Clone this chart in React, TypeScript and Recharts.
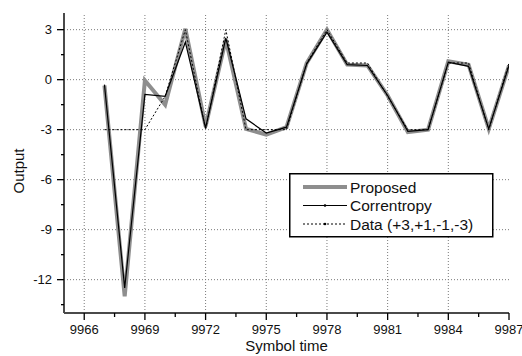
import React from 'react';
import { LineChart, Line, XAxis, YAxis, ReferenceLine, Legend } from 'recharts';

const symbolTimes = [9967, 9968, 9969, 9970, 9971, 9972, 9973, 9974, 9975, 9976, 9977, 9978, 9979, 9980, 9981, 9982, 9983, 9984, 9985, 9986, 9987];
const proposed = [-0.35, -13.0, -0.05, -1.5, 3.05, -2.8, 2.4, -2.95, -3.3, -2.85, 1.0, 3.0, 0.9, 0.85, -0.95, -3.15, -3.0, 1.1, 0.9, -2.95, 0.85];
const correntropy = [-0.3, -12.5, -0.88, -1.0, 2.25, -2.9, 2.5, -2.35, -3.2, -2.85, 0.95, 2.85, 0.9, 0.85, -0.95, -3.1, -3.0, 1.05, 0.8, -2.95, 0.85];
const dataSymbols = [-3, -3, -3, -1, 3, -3, 3, -3, -3, -3, 1, 3, 1, 1, -1, -3, -3, 1, 1, -3, 1];

const xMajorTicks = [9966, 9969, 9972, 9975, 9978, 9981, 9984, 9987];
const xMinorTicks = [9967.5, 9970.5, 9973.5, 9976.5, 9979.5, 9982.5, 9985.5];
const yMajorTicks = [-12, -9, -6, -3, 0, 3];
const yMinorTicks = [-13.5, -10.5, -7.5, -4.5, -1.5, 1.5];

const xDomain = [9965, 9987];
const yDomain = [-14, 4];

const chartData = symbolTimes.map((t, i) => ({
  t,
  proposed: proposed[i],
  correntropy: correntropy[i],
  data: dataSymbols[i],
}));

const FONT = 'Liberation Sans, Arial, Helvetica, sans-serif';
const AXIS_COLOR = '#4a4a4a';
const GRID_COLOR = '#7a7a7a';

const allX = [...xMajorTicks, ...xMinorTicks].sort((a, b) => a - b);
const allY = [...yMajorTicks, ...yMinorTicks].sort((a, b) => a - b);

const BottomTick = (props: any) => {
  const { x, y, payload } = props;
  const major = xMajorTicks.includes(payload.value);
  return (
    <g>
      <line x1={x} x2={x} y1={y} y2={y + (major ? 7 : 4)} stroke="#000" strokeWidth={1.3} />
      {major && (
        <text x={x} y={y + 21} textAnchor="middle" fontSize={13} fontFamily={FONT} fill="#111">
          {payload.value}
        </text>
      )}
    </g>
  );
};

const TopTick = (props: any) => {
  const { x, y, payload } = props;
  const major = xMajorTicks.includes(payload.value);
  return <line x1={x} x2={x} y1={y} y2={y + (major ? 6 : 4)} stroke="#000" strokeWidth={1.3} />;
};

const LeftTick = (props: any) => {
  const { x, y, payload } = props;
  const major = yMajorTicks.includes(payload.value);
  return (
    <g>
      <line x1={x} x2={x - (major ? 7 : 3)} y1={y} y2={y} stroke="#000" strokeWidth={1.3} />
      {major && (
        <text x={x - 12} y={y + 4.5} textAnchor="end" fontSize={13} fontFamily={FONT} fill="#111">
          {payload.value}
        </text>
      )}
    </g>
  );
};

const RightTick = (props: any) => {
  const { x, y, payload } = props;
  const major = yMajorTicks.includes(payload.value);
  return <line x1={x} x2={x - (major ? 7 : 4)} y1={y} y2={y} stroke="#000" strokeWidth={1.3} />;
};

const XTitle = (props: any) => {
  const { viewBox } = props;
  return (
    <text x={viewBox.x + viewBox.width / 2} y={viewBox.y + 38} textAnchor="middle" fontSize={15} fontFamily={FONT} fill="#111">
      Symbol time
    </text>
  );
};

const YTitle = (props: any) => {
  const { viewBox } = props;
  const cx = viewBox.x + 24;
  const cy = viewBox.y + viewBox.height / 2 + 8;
  return (
    <text x={cx} y={cy} transform={`rotate(-90, ${cx}, ${cy})`} textAnchor="middle" fontSize={15} fontFamily={FONT} fill="#111">
      Output
    </text>
  );
};

const legendItems = [
  { label: 'Proposed', color: '#8e8e8e', width: 4, dash: undefined, dot: false },
  { label: 'Correntropy', color: '#000', width: 1.2, dash: undefined, dot: true },
  { label: 'Data (+3,+1,-1,-3)', color: '#000', width: 1, dash: '2 2', dot: true },
];

const renderLegend = () => (
  <svg width={205} height={65} style={{ display: 'block' }}>
    <rect x={0.75} y={0.75} width={203} height={63} fill="#fff" stroke="#000" strokeWidth={1.5} />
    {legendItems.map((item, i) => {
      const cy = 14 + i * 18.5;
      return (
        <g key={item.label}>
          <line x1={14} x2={58} y1={cy} y2={cy} stroke={item.color} strokeWidth={item.width} strokeDasharray={item.dash} />
          {item.dot && <circle cx={36} cy={cy} r={1.3} fill="#000" />}
          <text x={61} y={cy + 5.5} fontSize={15.5} fontFamily={FONT} fill="#111">
            {item.label}
          </text>
        </g>
      );
    })}
  </svg>
);

const App: React.FC = () => {
  return (
    <div style={{ position: 'absolute', left: 0, top: 0, background: '#fff' }}>
      <LineChart width={522} height={356} data={chartData} margin={{ top: 13, right: 13, bottom: 0, left: 0 }}>
        <XAxis
          xAxisId="b"
          dataKey="t"
          type="number"
          domain={xDomain}
          allowDataOverflow
          ticks={allX}
          interval={0}
          height={43}
          tickSize={0}
          tickMargin={0}
          tick={<BottomTick />}
          axisLine={{ stroke: AXIS_COLOR, strokeWidth: 2 }}
          label={<XTitle />}
        />
        <XAxis
          xAxisId="t"
          orientation="top"
          type="number"
          domain={xDomain}
          allowDataOverflow
          ticks={allX}
          interval={0}
          height={0}
          tickSize={0}
          tickMargin={0}
          tick={<TopTick />}
          axisLine={{ stroke: AXIS_COLOR, strokeWidth: 2 }}
        />
        <YAxis
          yAxisId="l"
          type="number"
          domain={yDomain}
          allowDataOverflow
          ticks={allY}
          interval={0}
          width={64}
          tickSize={0}
          tickMargin={0}
          tick={<LeftTick />}
          axisLine={{ stroke: AXIS_COLOR, strokeWidth: 2 }}
          label={<YTitle />}
        />
        <YAxis
          yAxisId="r"
          orientation="right"
          type="number"
          domain={yDomain}
          allowDataOverflow
          ticks={allY}
          interval={0}
          width={0}
          tickSize={0}
          tickMargin={0}
          tick={<RightTick />}
          axisLine={{ stroke: AXIS_COLOR, strokeWidth: 2 }}
        />
        {xMajorTicks.filter(v => v > xDomain[0] && v < xDomain[1]).map(v => (
          <ReferenceLine key={`gx${v}`} xAxisId="b" yAxisId="l" x={v} stroke={GRID_COLOR} strokeDasharray="1 2" />
        ))}
        {yMajorTicks.map(v => (
          <ReferenceLine key={`gy${v}`} xAxisId="b" yAxisId="l" y={v} stroke={GRID_COLOR} strokeDasharray="1 2" />
        ))}
        <Line xAxisId="b" yAxisId="l" type="linear" dataKey="proposed" stroke="#8e8e8e" strokeWidth={4} dot={false} isAnimationActive={false} />
        <Line xAxisId="b" yAxisId="l" type="linear" dataKey="data" stroke="#000" strokeWidth={1} strokeDasharray="2 2" dot={false} isAnimationActive={false} />
        <Line xAxisId="b" yAxisId="l" type="linear" dataKey="correntropy" stroke="#000" strokeWidth={1.2} dot={false} isAnimationActive={false} />
        <Legend
          layout="horizontal"
          verticalAlign="middle"
          align="center"
          content={renderLegend}
          wrapperStyle={{ position: 'absolute', left: 289, top: 173, width: 205, height: 65 }}
        />
      </LineChart>
    </div>
  );
};

export default App;
